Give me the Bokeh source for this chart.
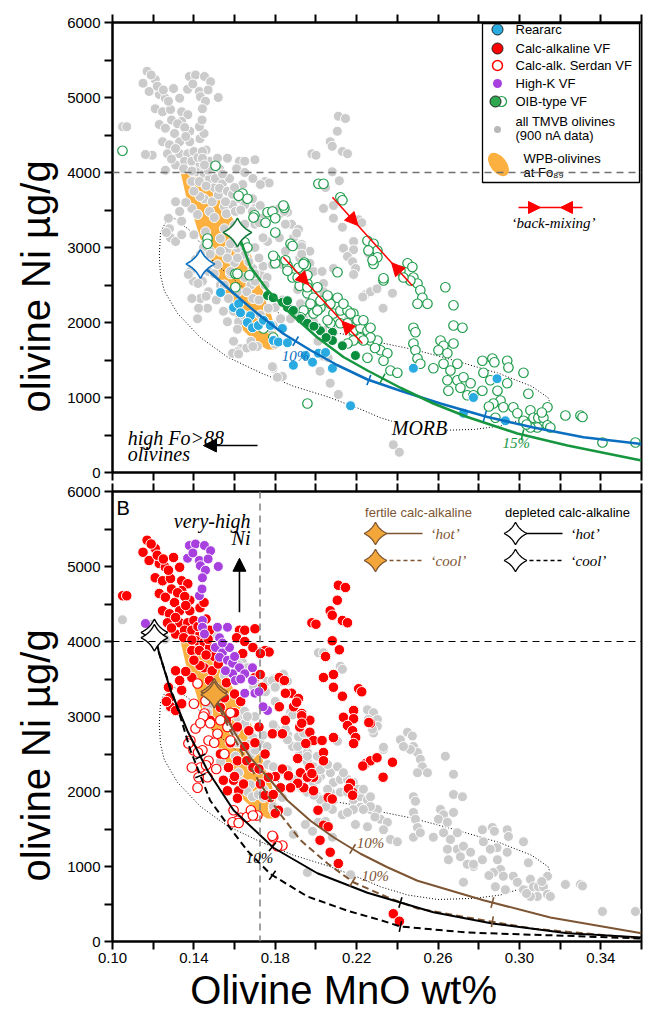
import numpy as np
from bokeh.plotting import figure
from bokeh.models import (Range1d, FixedTicker, LinearAxis, Label, Arrow, NormalHead,
                          Span, PrintfTickFormatter)
from bokeh.layouts import column
from bokeh.core.properties import value
from bokeh.embed import file_html
from bokeh.resources import INLINE

# ---------------- axes ----------------
x_ticks = [0.10, 0.14, 0.18, 0.22, 0.26, 0.30, 0.34]
x_minor = [0.12, 0.16, 0.20, 0.24, 0.28, 0.32, 0.36]
y_ticks = [0, 1000, 2000, 3000, 4000, 5000, 6000]
y_minor = [500, 1500, 2500, 3500, 4500, 5500]

# ---------------- point groups (MnO wt%, Ni ug/g) ----------------
reararc = [(0.1531,2400),(0.1595,2200),(0.1620,2250),(0.1629,2130),(0.1678,2090),(0.1663,2000),
           (0.1688,1930),(0.1717,1960),(0.1742,2030),(0.1776,1960),(0.1835,1920),(0.1791,1760),
           (0.1815,1740),(0.1860,1730),(0.1889,1430),(0.1948,1560),(0.1983,1470),(0.2012,1590),
           (0.2047,1600),(0.2081,1390),(0.2170,890),(0.2479,1390),(0.2774,1000),(0.2725,790),
           (0.2890,1250),(0.2931,690)]

oib_filled = [(0.1762,2360),(0.1790,2330),(0.1835,2270),(0.1860,2200),(0.1889,2160),(0.1924,2050),
              (0.1958,1990),(0.2007,1930),(0.2022,1890),(0.2081,1870),(0.2081,1760),(0.2130,1690),
              (0.2194,1560),(0.1860,2290),(0.1990,1950),(0.2050,1800)]

oib_open = [(0.1049,4290),(0.1506,4090),(0.1639,3720),(0.1663,3650),(0.1620,3690),(0.1698,3430),
            (0.1762,3470),(0.1786,3480),(0.1800,3390),(0.1845,3530),(0.1752,3330),(0.1800,3200),
            (0.1467,3120),(0.1467,3050),(0.1649,3070),(0.1663,3000),(0.1875,3050),(0.1885,3020),
            (0.1800,2850),(0.1800,2790),(0.1943,2800),(0.1950,2760),(0.1860,2760),(0.1604,2650),
            (0.1673,2630),(0.1604,2470),(0.1885,2600),(0.1948,2490),(0.1920,2490),(0.1840,3560),
            (0.1693,3400),(0.1850,2830),(0.1860,2690),(0.1914,2730),(0.1910,2600),(0.1958,2520),
            (0.2007,2470),(0.1958,2390),(0.1988,2330),(0.2057,2330),(0.2071,2250),(0.2022,2200),
            (0.1988,2120),(0.2086,2120),(0.2120,2160),(0.2155,2160),(0.2184,2120),(0.2071,1990),
            (0.2120,1990),(0.2155,1990),(0.2184,1890),(0.2219,1930),(0.2253,1890),(0.2219,1790),
            (0.2268,1760),(0.2302,1760),(0.2317,1630),(0.2351,1590),(0.2332,1490),(0.2253,1530),
            (0.2290,1660),(0.2366,1360),(0.2400,1330),(0.2106,2670),(0.2332,2560),(0.1958,920),
            (0.2012,3850),(0.2037,3850),(0.2120,3670),(0.2130,3630),(0.2253,3090),(0.2283,3050),
            (0.2302,2960),(0.2258,2960),(0.2302,2870),(0.2283,2780),(0.2278,2830),(0.2415,2690),
            (0.2450,2790),(0.2474,2740),(0.2479,2600),(0.2499,2520),(0.2513,2430),(0.2523,2330),
            (0.2548,2250),(0.2499,2250),(0.2464,2560),(0.2430,2600),(0.2332,2590),(0.2636,2470),
            (0.2676,2230),(0.2479,1930),(0.2489,1870),(0.2479,1720),(0.2489,1630),(0.2499,1520),
            (0.2513,1450),(0.2676,1960),(0.2720,1930),(0.2612,1760),(0.2627,1690),(0.2602,1630),
            (0.2646,1590),(0.2676,1720),(0.2627,1450),(0.2695,1450),(0.2577,1390),(0.2661,1360),
            (0.2646,1230),(0.2695,1230),(0.2725,1270),(0.2710,1130),(0.2760,1190),(0.2651,1090),
            (0.2744,1030),(0.2774,1030),(0.2818,1490),(0.2823,1330),(0.2867,1520),(0.2877,1470),
            (0.2940,1490),(0.2946,1400),(0.3020,1330),(0.2857,1230),(0.2892,1090),(0.2818,1090),
            (0.2940,1190),(0.2907,960),(0.2872,920),(0.2850,880),(0.2921,870),(0.2970,870),
            (0.2990,790),(0.3044,1050),(0.3054,830),(0.3069,730),(0.3093,730),(0.3118,730),
            (0.3138,870),(0.3110,800),(0.3138,630),(0.3088,600),(0.3054,600),(0.3020,690),
            (0.3152,600),(0.3035,640),(0.3226,760),(0.3300,760),(0.3310,740),(0.3408,400),
            (0.3570,400),(0.2882,730),(0.1939,2780),(0.1958,2470),(0.1973,2250),(0.2022,2290),
            (0.2057,2360),(0.2106,2330),(0.2135,2250),(0.2170,2120),(0.2204,2030),(0.2233,2030),
            (0.2268,1800),(0.2268,1930),(0.2233,1760),(0.2184,1760),(0.2155,1720),(0.2057,2030),
            (0.2007,2160),(0.1939,2160),(0.1924,2070),(0.1742,1920),(0.1790,1800),(0.1958,2630),
            (0.1614,2650),(0.1790,2890)]

calc_alk = [(0.1170,5350),(0.1150,5190),(0.1210,5240),(0.1180,5080),(0.1230,5040),(0.1260,4990),
            (0.1210,4850),(0.1246,4810),(0.1285,4840),(0.1300,5120),(0.1330,4990),(0.1340,4810),
            (0.1370,4770),(0.1230,4640),(0.1260,4590),(0.1305,4520),(0.1340,4680),(0.1380,4550),
            (0.1246,4410),(0.1280,4370),(0.1330,4410),(0.1380,4410),(0.1430,4450),(0.1450,4520),
            (0.1270,4250),(0.1330,4250),(0.1370,4250),(0.1400,4280),(0.1310,4100),(0.1354,4150),
            (0.1390,4150),(0.1430,4100),(0.1477,4150),(0.1410,4010),(0.1450,3990),(0.1390,3880),
            (0.1427,3880),(0.1477,3920),(0.1050,4610),(0.1070,4610),(0.1450,3650),(0.1430,3680),
            (0.1490,3610),(0.1390,3520),(0.1477,3480),(0.1310,3610),(0.1340,3350),(0.1280,3250),
            (0.1285,3130),(0.1310,3080),(0.1340,3170),(0.1275,3390),(0.1265,3200),
            (0.1190,5300),(0.1220,5150),(0.1250,5100),(0.1275,4950),(0.1290,4700),(0.1320,4650),
            (0.1355,4600),(0.1360,4480),(0.1310,4320),(0.1290,4180),(0.1350,4050),(0.1390,4020),
            (0.1420,4200),(0.1460,4300),(0.1470,4030),(0.1500,3800),(0.1460,3820),(0.1520,3700),
            (0.1400,3750),(0.1360,3600),(0.1330,3480),(0.1560,3450),(0.1600,3300),(0.1630,3200),
            (0.1624,4150),(0.1650,4150),(0.1700,4170),(0.1610,4050),(0.1650,4000),(0.1690,3920),
            (0.1640,3840),(0.1750,3880),(0.1770,3860),(0.1727,3840),(0.1700,3520),(0.1726,3560),
            (0.1737,3390),(0.1820,3520),(0.1845,3480),(0.1880,3310),(0.1850,3310),(0.1890,3130),
            (0.1930,3040),(0.1920,2860),(0.1970,2950),(0.1850,2950),(0.1820,3130),(0.1720,2860),
            (0.1786,2770),(0.1835,2770),(0.1980,4250),
            (0.2110,4750),(0.2145,4720),(0.2105,4550),(0.2070,4410),(0.2080,4350),(0.2130,4280),
            (0.2155,4250),(0.2000,4230),(0.2080,4010),(0.2115,3890),(0.2047,3800),(0.2037,3520),
            (0.2086,3560),(0.2086,3390),(0.2130,3270),(0.2210,3370),(0.2225,3330),(0.2135,2990),
            (0.2185,3080),(0.2185,2970),(0.2155,2880),(0.2180,2810),(0.2195,2720),(0.2185,2640),
            (0.2268,2910),(0.2086,2720),(0.2243,2370),(0.2268,2410),(0.2300,2450),(0.2230,2340),
            (0.2330,2190),(0.2376,2390),(0.1914,3240),(0.1905,3190),(0.1930,3010),(0.1930,2910),
            (0.1970,2790),(0.1988,2680),(0.2030,2680),(0.1950,2640),(0.2037,2520),(0.1910,2440),
            (0.1924,2250),(0.1970,2320),(0.1988,2190),(0.1940,2050),(0.1988,2010),(0.2070,1910),
            (0.2170,2110),(0.2180,1990),(0.2260,2920),(0.2037,2410),(0.1958,2190),(0.1980,2240),
            (0.1910,2110),(0.1835,2300),(0.1865,2210),(0.1826,2050),(0.1875,2050),(0.1776,2190),
            (0.1800,2200),(0.1776,1920),(0.2060,1920),(0.2080,1900),(0.2010,1750),(0.2160,2040),
            (0.2180,1950),(0.2037,1550),(0.2060,1530),(0.2020,1350),(0.2070,1190),(0.2110,1040),
            (0.1816,1750),(0.1800,1710),(0.2380,370),(0.2410,270),
            (0.1530,3120),(0.1614,2860),(0.1670,2810),(0.1530,2500),(0.1570,2320),(0.1614,2410),
            (0.1660,2410),(0.1545,2150),(0.1595,2150),(0.1620,2010),(0.1614,1910),(0.1565,2010),
            (0.1644,2100),(0.1690,2320),(0.1727,2100),(0.1750,1950),(0.1766,2190),(0.1790,1960),
            (0.1500,3400),(0.1550,3250),(0.1480,2950),(0.1560,2950),(0.1600,3050),(0.1580,2650),
            (0.1700,2650),(0.1750,2500),(0.1720,2300),(0.1650,2600),(0.1600,2200)]

serdan = [(0.1418,3440),(0.1457,3210),(0.1400,3170),(0.1452,3040),(0.1408,2840),(0.1447,3000),
          (0.1480,2910),(0.1432,2910),(0.1516,2770),(0.1472,2680),(0.1442,2550),(0.1565,2860),
          (0.1580,2680),(0.1383,2680),(0.1398,2550),(0.1472,2410),(0.1432,2320),(0.1390,2320),
          (0.1467,2190),(0.1423,2190),(0.1418,2050),(0.1595,1750),(0.1630,1650),(0.1660,1660),
          (0.1680,1750),(0.1712,1680),(0.1614,1610),(0.1790,1390),(0.1835,1280),(0.1810,1270),
          (0.1373,2640),(0.1420,2520),(0.1460,2350),(0.1510,2300),(0.1590,1590),(0.1620,1580),
          (0.1690,1680),(0.1786,1410),(0.1500,2650),(0.1550,2500),(0.1530,2950),(0.1580,3050)]

high_k = [(0.1378,5280),(0.1408,5300),(0.1452,5280),(0.1482,5210),(0.1369,5110),(0.1427,5080),
          (0.1432,5010),(0.1457,4950),(0.1442,4850),(0.1520,5000),(0.1395,5180),(0.1427,4610),
          (0.1442,4280),(0.1442,4190),(0.1452,4100),(0.1162,4240),(0.1516,4190),(0.1565,4190),
          (0.1526,4050),(0.1506,3920),(0.1540,3850),(0.1575,3920),(0.1526,3790),(0.1565,3750),
          (0.1590,3710),(0.1624,3650),(0.1590,3570),(0.1555,3610),(0.1650,3570),(0.1688,3650),
          (0.1688,3480),(0.1604,3480),(0.1650,3310),(0.1700,3310),(0.1720,3330),(0.1762,3080),
          (0.1740,3130),(0.1540,3980),(0.1600,3800),(0.1630,3500),(0.1470,5100),(0.1440,4700)]

tmvb_other = [(0.1614,2990),(0.1650,3010),(0.1690,2720),(0.1727,2640),(0.1680,2500),(0.1790,3500),
              (0.1830,3460),(0.1860,3470),(0.1840,3570),(0.1195,4230),(0.1260,4030),(0.1550,3550),
              (0.1600,2800),(0.1650,2900),(0.1700,3000),(0.1740,2750),(0.1760,2600),(0.1700,2550)]

# ---------------- fields ----------------
wpb_x = [0.1335,0.1360,0.1390,0.1432,0.1467,0.1510,0.1565,0.1600,0.1644,0.1712,0.1760,0.1805,
         0.1810,0.1800,0.1776,0.1750,0.1722,0.1688,0.1640,0.1590,0.1530,0.1480,0.1430,0.1380]
wpb_y = [4000,3700,3480,3120,2960,2650,2330,2100,1890,1720,1640,1640,
         1750,1900,2150,2300,2600,2860,3100,3390,3650,3850,4000,4030]

morb_x = [0.1305,0.1393,0.1428,0.1500,0.1650,0.1800,0.1950,0.2100,0.2170,0.2300,0.2480,0.2660,
          0.2900,0.3060,0.3140,0.3150,0.3120,0.3050,0.2907,0.2780,0.2600,0.2450,0.2317,0.2204,
          0.2057,0.1890,0.1727,0.1565,0.1432,0.1320,0.1255,0.1236,0.1230,0.1236,0.1260,0.1305]
morb_y = [3390,3200,3070,2800,2450,2150,1950,1860,1830,1740,1640,1510,
          1320,1150,1000,930,840,740,620,575,560,620,730,860,
          1010,1150,1330,1540,1800,2120,2420,2630,2890,3200,3330,3390]

# ---------------- model curves ----------------
rear_curve_x = [0.1445,0.148,0.1595,0.1712,0.184,0.1973,0.2106,0.2253,0.2415,0.2612,0.2843,0.3069,0.3315,0.36]
rear_curve_y = [2740,2670,2390,2120,1850,1630,1430,1240,1090,920,740,600,470,380]
oib_curve_x = [0.1625,0.1678,0.1762,0.1875,0.2007,0.2135,0.2253,0.2415,0.2577,0.2744,0.299,0.3236,0.36]
oib_curve_y = [3130,2740,2430,2120,1800,1540,1360,1130,920,740,520,360,160]
dep_hot_x = [0.1215,0.1226,0.1285,0.1368,0.1467,0.1595,0.1791,0.2007,0.2253,0.2415,0.2577,0.2867,0.3236,0.36]
dep_hot_y = [4030,3880,3350,2810,2280,1750,1250,910,650,520,390,240,110,55]
dep_cool_x = [0.1210,0.1270,0.1334,0.1383,0.1480,0.1565,0.1663,0.1776,0.1958,0.2155,0.2317,0.2415,0.2744,0.3236,0.36]
dep_cool_y = [4000,3500,2990,2550,1880,1560,1210,900,600,410,285,200,120,75,40]
fer_hot_x = [0.1506,0.1595,0.1678,0.1776,0.1860,0.1973,0.2086,0.2219,0.2351,0.2499,0.2823,0.3152,0.36]
fer_hot_y = [3250,2810,2450,2150,1880,1610,1390,1170,990,810,550,320,110]
fer_cool_x = [0.1510,0.1545,0.1630,0.1727,0.1810,0.1924,0.2057,0.2184,0.2351,0.2499,0.2744,0.3069,0.36]
fer_cool_y = [3230,2990,2550,2100,1750,1350,1040,790,590,440,320,170,40]

rear_ticks = [0.190, 0.226, 0.283]
oib_ticks = [0.2327, 0.3015]
dep_ticks = [0.1432, 0.1786, 0.2415]
fer_ticks = [0.2180, 0.2867]

# starting compositions (stars)
rear_star = (0.1432, 2780)
oib_star = (0.1614, 3200)
dep_stars = [(0.1206, 4120), (0.1206, 4050)]
fer_stars = [(0.1500, 3330), (0.1500, 3290)]

# back-mixing trends
backmix = [((0.1840, 2870), (0.2228, 1720)), ((0.2081, 3670), (0.2474, 2490))]

# ---------------- styles ----------------
GRAY = "#cbcbcb"; BLUE_PT = "#29abe2"; BLUE_LN = "#0b6fc0"
GREEN_F = "#0a8e3e"; GREEN_O = "#1b9a48"; GREEN_LN = "#15963f"
RED = "#ff0000"; PURPLE = "#a840e0"; ORANGE = "#fbb040"
BROWN = "#7d5533"; STAR_OR = "#f3a73b"
SANS = "Liberation Sans"; SERIF = "Liberation Serif"
PAD = "\u00a0" * 6   # shifts the centred axis titles like the reference

SX = 0.26 / 529.0
SY = 6000.0 / 450.0


def unzip(pts):
    return [q[0] for q in pts], [q[1] for q in pts]


def fxy(fx, fy):
    return 0.10 + fx * SX, fy * SY


def star_poly(cx, cy, r, sx=SX, sy=SY):
    t = np.linspace(0, 2 * np.pi, 97)
    a = 0.8
    ux = a * np.cos(t) ** 3 + (1 - a) * np.cos(t)
    uy = a * np.sin(t) ** 3 + (1 - a) * np.sin(t)
    return list(cx + r * ux * sx), list(cy + r * uy * sy)


def curve_ticks(p, cx, cy, xs, color, half=5.5, lw=1.6):
    cx = np.array(cx); cy = np.array(cy)
    x0, y0, x1, y1 = [], [], [], []
    for x in xs:
        y = np.interp(x, cx, cy)
        d = 0.002
        ya = np.interp(x - d, cx, cy); yb = np.interp(x + d, cx, cy)
        vx = 2 * d / SX; vy = (yb - ya) / SY
        n = np.hypot(vx, vy)
        nx, ny = -vy / n, vx / n
        x0.append(x - half * nx * SX); x1.append(x + half * nx * SX)
        y0.append(y - half * ny * SY); y1.append(y + half * ny * SY)
    p.segment(x0, y0, x1, y1, line_color=color, line_width=lw)


def style_axis(ax):
    ax.axis_line_width = 2
    ax.axis_line_color = "black"
    ax.major_tick_line_width = 2
    ax.minor_tick_line_width = 2
    ax.major_tick_in = 0; ax.major_tick_out = 8
    ax.minor_tick_in = 0; ax.minor_tick_out = 8
    ax.major_label_text_font = SANS
    ax.major_label_text_font_size = "15px"
    ax.major_label_text_color = "black"


def make_fig(border_top, border_bottom, x_labels):
    p = figure(frame_width=529, frame_height=450,
               x_range=Range1d(0.10, 0.36), y_range=Range1d(0, 6000),
               output_backend="svg", toolbar_location=None,
               min_border_left=112, min_border_right=8,
               min_border_top=border_top, min_border_bottom=border_bottom)
    p.grid.visible = False
    p.outline_line_color = "black"
    p.outline_line_width = 2
    p.background_fill_color = "white"
    p.border_fill_color = "white"
    xa = p.xaxis[0]; ya = p.yaxis[0]
    ya.ticker = FixedTicker(ticks=y_ticks, minor_ticks=y_minor)
    ya.major_label_standoff = 4
    ya.axis_label = "olivine  Ni µg/g" + PAD
    ya.axis_label_text_font = SANS
    ya.axis_label_text_font_size = "40px"
    ya.axis_label_text_font_style = "normal"
    ya.axis_label_text_color = "black"
    ya.axis_label_standoff = 6
    if x_labels:
        xa.ticker = FixedTicker(ticks=x_ticks, minor_ticks=x_minor)
        xa.formatter = PrintfTickFormatter(format="%.2f")
        xa.major_label_standoff = 3
        xa.axis_label = "Olivine MnO wt%" + PAD
        xa.axis_label_text_font = SANS
        xa.axis_label_text_font_size = "40px"
        xa.axis_label_text_font_style = "normal"
        xa.axis_label_text_color = "black"
        xa.axis_label_standoff = 2
    else:
        # tick marks only (no labels): all ticks as minor ticks
        xa.ticker = FixedTicker(ticks=[], minor_ticks=x_ticks + x_minor)
        xa.major_label_standoff = 0
    above = LinearAxis(ticker=FixedTicker(ticks=[], minor_ticks=x_ticks + x_minor),
                       major_label_standoff=0)
    p.add_layout(above, "above")
    for ax in (xa, ya, above):
        style_axis(ax)
    p.extra_x_ranges = {"fx": Range1d(0, 529)}
    p.extra_y_ranges = {"fy": Range1d(0, 450)}
    return p


def txt(p, fx, fy, s, size="13px", font=SANS, style="normal", color="black", align="left",
        baseline="middle"):
    p.text(x=[fx], y=[fy], text=[s], x_range_name="fx", y_range_name="fy",
           text_font=value(font), text_font_size=size, text_font_style=style,
           text_color=color, text_align=align, text_baseline=baseline)


def label(p, x, y, s, size="15px", font=SERIF, style="italic", color="black", align="center",
          baseline="middle", bg=None):
    p.add_layout(Label(x=x, y=y, text=s, text_font=font, text_font_size=size,
                       text_font_style=style, text_color=color, text_align=align,
                       text_baseline=baseline, background_fill_color=bg))


def arrow(p, x0, y0, x1, y1, color, size=13, lw=1.5):
    p.add_layout(Arrow(end=NormalHead(size=size, fill_color=color, line_color=color, line_width=1),
                       x_start=x0, y_start=y0, x_end=x1, y_end=y1,
                       line_color=color, line_width=lw))


def star(p, cx, cy, r, fill, line, lw=1.5, frame_units=False):
    if frame_units:
        xs, ys = star_poly(cx, cy, r, 1.0, 1.0)
        p.patch(xs, ys, fill_color=fill, line_color=line, line_width=lw,
                x_range_name="fx", y_range_name="fy")
    else:
        xs, ys = star_poly(cx, cy, r)
        p.patch(xs, ys, fill_color=fill, line_color=line, line_width=lw)


LG = dict(x_range_name="fx", y_range_name="fy")

# =============== TOP PANEL ===============
top = make_fig(22, 10, False)
top.patch(wpb_x, wpb_y, fill_color=ORANGE, line_color=None)
top.line(morb_x, morb_y, line_color="black", line_width=1, line_dash="1 2")
top.add_layout(Span(location=4000, dimension="width", line_color="#707070", line_width=1.5,
                    line_dash="7 5"))
gx, gy = unzip(tmvb_other + calc_alk + serdan + high_k)
top.scatter(gx, gy, size=10, fill_color=GRAY, line_color="white", line_width=1)
ox, oy = unzip(oib_open)
top.scatter(ox, oy, size=9.5, fill_color="white", line_color=GREEN_O, line_width=1.2)
fx_, fy_ = unzip(oib_filled)
top.scatter(fx_, fy_, size=10, fill_color=GREEN_F, line_color="white", line_width=1)
bx, by = unzip(reararc)
top.scatter(bx, by, size=10, fill_color=BLUE_PT, line_color="white", line_width=1)

top.line(rear_curve_x, rear_curve_y, line_color=BLUE_LN, line_width=2.5)
top.line(oib_curve_x, oib_curve_y, line_color=GREEN_LN, line_width=2.5)
curve_ticks(top, rear_curve_x, rear_curve_y, rear_ticks, BLUE_LN)
curve_ticks(top, oib_curve_x, oib_curve_y, oib_ticks, GREEN_LN)

for (a, b) in backmix:
    top.line([a[0], b[0]], [a[1], b[1]], line_color=RED, line_width=1.5)
    t1, t2 = 0.32, 0.74
    h1 = (a[0] + t1 * (b[0] - a[0]), a[1] + t1 * (b[1] - a[1]))
    h2 = (a[0] + t2 * (b[0] - a[0]), a[1] + t2 * (b[1] - a[1]))
    arrow(top, a[0], a[1], h1[0], h1[1], RED, size=13, lw=0.1)
    arrow(top, b[0], b[1], h2[0], h2[1], RED, size=13, lw=0.1)

star(top, rear_star[0], rear_star[1], 14, "white", BLUE_LN, 1.6)
star(top, oib_star[0], oib_star[1], 14, "white", "#137a3c", 1.6)

# back-mixing key
kx0, ky = fxy(406, 265)
kx1, _ = fxy(470, 265)
top.line([kx0, kx1], [ky, ky], line_color=RED, line_width=1.5)
arrow(top, kx0, ky, fxy(428, 265)[0], ky, RED, size=12, lw=0.1)
arrow(top, kx1, ky, fxy(448, 265)[0], ky, RED, size=12, lw=0.1)
label(top, fxy(441, 250)[0], fxy(441, 250)[1], "\u2018back-mixing\u2019", size="15px")

label(top, 0.1075, (472 - 437) * SY, "high Fo>88", size="20px", align="left", baseline="alphabetic")
label(top, 0.1075, (472 - 453) * SY, "olivines", size="20px", align="left", baseline="alphabetic")
arrow(top, 0.1713, 360, 0.1447, 360, "black", size=13, lw=1.6)
label(top, 0.2509, 600, "MORB", size="20px", bg="white")
label(top, 0.1900, 1560, "10%", size="15px", color=BLUE_LN)
label(top, 0.2985, 400, "15%", size="15px", color=GREEN_LN)

# legend (frame pixel units)
top.quad(left=[370], right=[527], bottom=[290], top=[449], fill_color="white",
         line_color="black", line_width=1.3, **LG)
top.scatter([385], [443], size=11, fill_color=BLUE_PT, line_color="#222222", line_width=1, **LG)
top.scatter([385], [424], size=11, fill_color=RED, line_color="#222222", line_width=1, **LG)
top.scatter([385], [407], size=10, fill_color="white", line_color=RED, line_width=1.5, **LG)
top.scatter([385], [389], size=9, fill_color=PURPLE, line_color=None, **LG)
top.scatter([389], [371], size=10, fill_color="white", line_color=GREEN_O, line_width=1.2, **LG)
top.scatter([383], [371], size=11, fill_color="#2fa84f", line_color="#222222", line_width=1, **LG)
top.scatter([385], [343], size=7, fill_color="#b8b8b8", line_color=None, **LG)
top.ellipse(x=[386], y=[308], width=[27], height=[16], angle=[-0.9], fill_color=ORANGE,
            line_color=None, **LG)
txt(top, 403, 443, "Reararc")
txt(top, 403, 424, "Calc-alkaline VF")
txt(top, 403, 407, "Calc-alk. Serdan VF")
txt(top, 403, 389, "High-K VF")
txt(top, 403, 371, "OIB-type VF")
txt(top, 403, 351, "all TMVB olivines")
txt(top, 403, 337, "(900 nA data)")
txt(top, 411, 314, "WPB-olivines")
txt(top, 411, 300, "at Fo\u2088\u2089")

# =============== BOTTOM PANEL ===============
bot = make_fig(9, 80, True)
bot.patch(wpb_x, wpb_y, fill_color=ORANGE, line_color=None)
bot.line(morb_x, morb_y, line_color="black", line_width=1, line_dash="1 2")
bot.add_layout(Span(location=4000, dimension="width", line_color="black", line_width=1.2,
                    line_dash="7 5"))
bot.add_layout(Span(location=0.1725, dimension="height", line_color="#808080", line_width=1.5,
                    line_dash="7 5"))
gx2, gy2 = unzip(tmvb_other + reararc + oib_filled + oib_open)
bot.scatter(gx2, gy2, size=10, fill_color=GRAY, line_color="white", line_width=1)
rx, ry = unzip(calc_alk)
bot.scatter(rx, ry, size=10.5, fill_color=RED, line_color="white", line_width=1)
sx_, sy_ = unzip(serdan)
bot.scatter(sx_, sy_, size=9.5, fill_color="white", line_color=RED, line_width=1.2)
px_, py_ = unzip(high_k)
bot.scatter(px_, py_, size=10, fill_color=PURPLE, line_color="white", line_width=1)

bot.line(fer_hot_x, fer_hot_y, line_color=BROWN, line_width=2)
bot.line(fer_cool_x, fer_cool_y, line_color=BROWN, line_width=2, line_dash="7 4")
bot.line(dep_hot_x, dep_hot_y, line_color="black", line_width=2)
bot.line(dep_cool_x, dep_cool_y, line_color="black", line_width=2, line_dash="7 4")
curve_ticks(bot, fer_hot_x, fer_hot_y, fer_ticks, BROWN)
curve_ticks(bot, fer_cool_x, fer_cool_y, fer_ticks, BROWN)
curve_ticks(bot, dep_hot_x, dep_hot_y, dep_ticks, "black")
curve_ticks(bot, dep_cool_x, dep_cool_y, dep_ticks, "black")

for s in dep_stars:
    star(bot, s[0], s[1], 13, "white", "black", 1.4)
for s in fer_stars:
    star(bot, s[0], s[1], 13, STAR_OR, BROWN, 1.4)

label(bot, 0.1722, 1110, "10%", size="15px")
label(bot, 0.2268, 1320, "10%", size="15px", color=BROWN)
label(bot, 0.2292, 880, "10%", size="15px", color=BROWN)
arrow(bot, 0.1624, 4390, 0.1624, 5110, "black", size=13, lw=1.6)
vx, vy = fxy(138, 421)
label(bot, vx, vy, "very-high", size="20px", align="right", baseline="alphabetic")
nx, ny = fxy(138, 404)
label(bot, nx, ny, "Ni", size="20px", align="right", baseline="alphabetic")
txt(bot, 4, 434, "B", size="20px")

# bottom key
txt(bot, 306, 429, "fertile calc-alkaline", color=BROWN, align="center")
txt(bot, 455, 429, "depleted calc-alkaline", align="center")
bot.line([270, 310], [408, 408], line_color=BROWN, line_width=1.5, **LG)
bot.line([270, 310], [381, 381], line_color=BROWN, line_width=1.5, line_dash="4 3", **LG)
bot.line([410, 450], [408, 408], line_color="black", line_width=1.5, **LG)
bot.line([410, 450], [381, 381], line_color="black", line_width=1.5, line_dash="4 3", **LG)
star(bot, 263, 408, 11, STAR_OR, BROWN, 1.3, frame_units=True)
star(bot, 263, 381, 11, STAR_OR, BROWN, 1.3, frame_units=True)
star(bot, 403, 408, 11, "white", "black", 1.3, frame_units=True)
star(bot, 403, 381, 11, "white", "black", 1.3, frame_units=True)
txt(bot, 318, 408, "\u2018hot\u2019", size="15px", font=SERIF, style="italic", color=BROWN)
txt(bot, 318, 381, "\u2018cool\u2019", size="15px", font=SERIF, style="italic", color=BROWN)
txt(bot, 458, 408, "\u2018hot\u2019", size="15px", font=SERIF, style="italic")
txt(bot, 458, 381, "\u2018cool\u2019", size="15px", font=SERIF, style="italic")

layout = column(top, bot)
open("out.html", "w").write(file_html(layout, INLINE))
